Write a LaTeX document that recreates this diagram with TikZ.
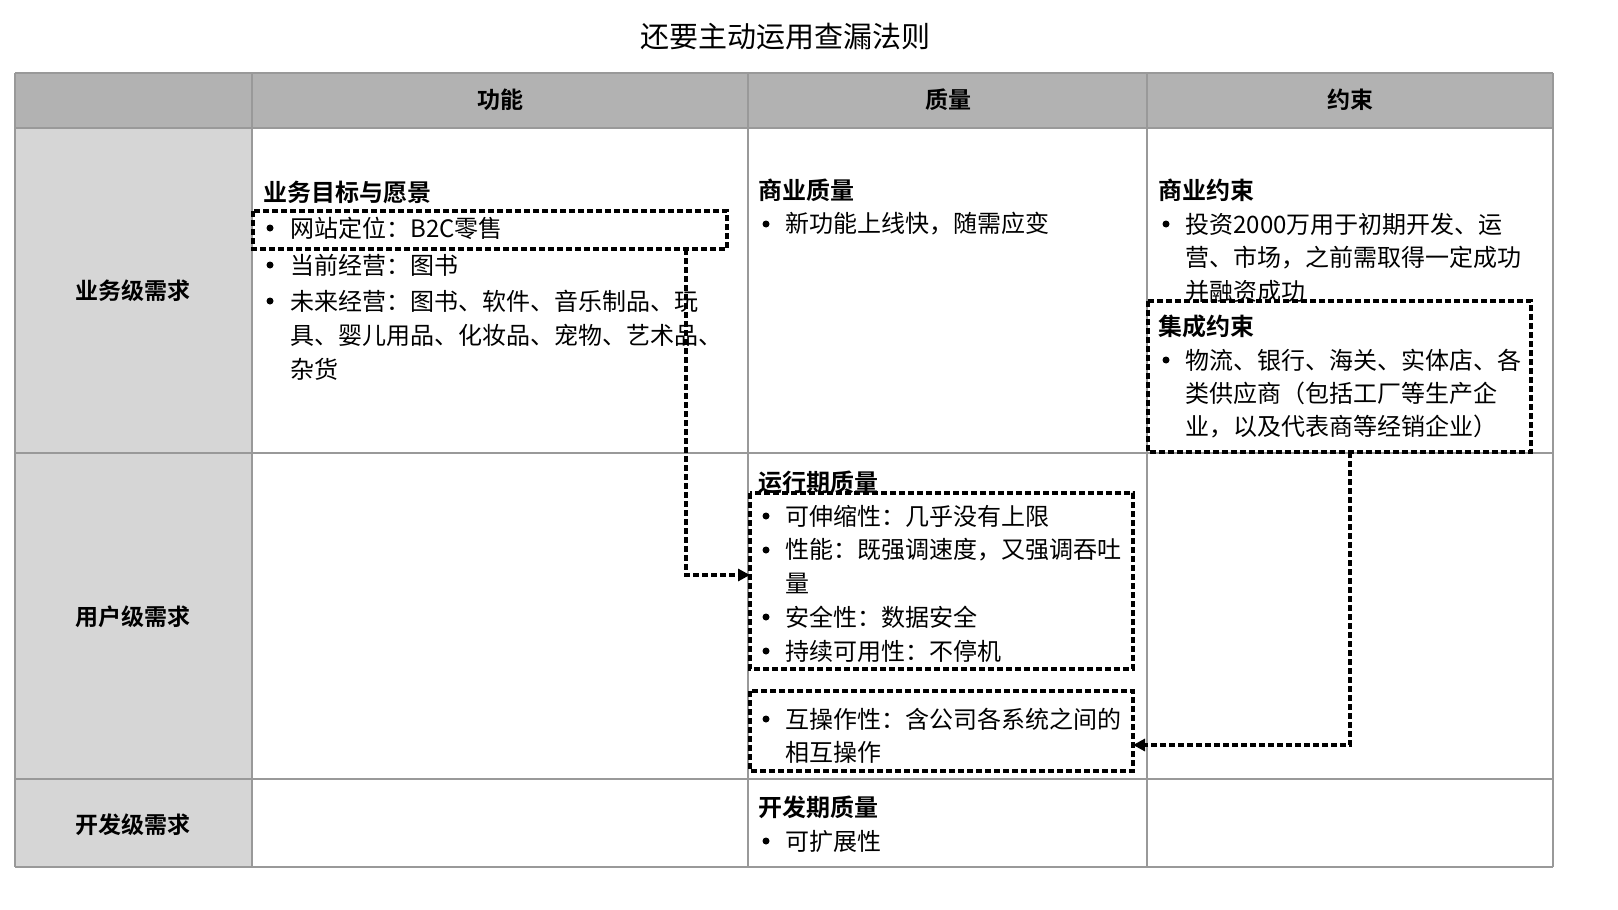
\documentclass[tikz,border=0pt]{standalone}
\usepackage{fontspec}
\setmainfont{Noto Sans CJK SC}[BoldFont={Noto Sans CJK SC Bold}]
\usetikzlibrary{arrows.meta}
\begin{document}
\begin{tikzpicture}[x=0.5pt,y=-0.5pt,
  txt/.style={anchor=west,inner sep=0,font=\fontsize{12}{14}\selectfont},
  head/.style={anchor=west,inner sep=0,font=\fontsize{12}{14}\selectfont\bfseries},
  rowlab/.style={inner sep=0,font=\fontsize{11.5}{14}\selectfont\bfseries},
  bul/.style={circle,fill=black,inner sep=0,minimum size=3.5pt},
  dbox/.style={draw,line width=1.6pt,dash pattern=on 3pt off 1.5pt},
  darr/.style={line width=1.6pt,dash pattern=on 3pt off 1.5pt,-{Triangle[length=6pt,width=6pt]}},
  grid/.style={draw=black!40,line width=0.6pt}]
\useasboundingbox (0,0) rectangle (1618,910);
\fill[white] (0,0) rectangle (1618,910);
\node[inner sep=0,font=\fontsize{14.5}{16}\selectfont] (title) at (785,37) {还要主动运用查漏法则};
\fill[black!30] (15,73) rectangle (1553,128);
\fill[black!16] (15,128) rectangle (252,867);
\foreach \y in {73,128,453,779,867} \draw[grid] (15,\y) -- (1553,\y);
\foreach \x in {15,252,748,1147,1553} \draw[grid] (\x,73) -- (\x,867);
\node[rowlab] (h1) at (500,100) {功能};
\node[rowlab] (h2) at (948,100) {质量};
\node[rowlab] (h3) at (1350,100) {约束};
\node[rowlab] (r1) at (133,291) {业务级需求};
\node[rowlab] (r2) at (133,617) {用户级需求};
\node[rowlab] (r3) at (133,825) {开发级需求};
% cell functions
\node[head] (f0) at (263,192) {业务目标与愿景};
\foreach \y/\t [count=\i] in {228/网站定位：B2C零售,265/当前经营：图书,301/未来经营：图书、软件、音乐制品、玩} {
  \node[bul] (fb\i) at (270,\y) {}; \node[txt] (ft\i) at (290,\y) {\t};}
\node[txt] (ft4) at (290,335) {具、婴儿用品、化妆品、宠物、艺术品、};
\node[txt] (ft5) at (290,369) {杂货};
\draw[dbox] (253,211) rectangle (727,249);
\coordinate (a1) at (686,249);
% quality business
\node[head] (q0) at (758,190) {商业质量};
\node[bul] (qb1) at (766,224) {}; \node[txt] (qt1) at (785,224) {新功能上线快，随需应变};
% constraint
\node[head] (c0) at (1158,190) {商业约束};
\node[bul] (cb1) at (1166,224) {}; \node[txt] (ct1) at (1185,224) {投资2000万用于初期开发、运};
\node[txt] (ct2) at (1185,258) {营、市场，之前需取得一定成功};
\node[txt] (ct3) at (1185,291) {并融资成功};
\node[head] (c1) at (1158,326) {集成约束};
\node[bul] (cb2) at (1166,360) {}; \node[txt] (ct4) at (1185,360) {物流、银行、海关、实体店、各};
\node[txt] (ct5) at (1185,393) {类供应商（包括工厂等生产企};
\node[txt] (ct6) at (1185,427) {业，以及代表商等经销企业）};
\draw[dbox] (1148,301) rectangle (1531,452);
\coordinate (a2) at (1350,452);
% run-time quality
\node[head] (q1) at (758,482) {运行期质量};
\foreach \y/\t [count=\i] in {516/可伸缩性：几乎没有上限,550/性能：既强调速度，又强调吞吐,617/安全性：数据安全,651/持续可用性：不停机} {
  \node[bul] (rb\i) at (766,\y) {}; \node[txt] (rt\i) at (785,\y) {\t};}
\node[txt] (rt5) at (785,583) {量};
\draw[dbox] (750,493) rectangle (1133,669);
\coordinate (t1) at (750,575);
\node[bul] (ib) at (766,719) {}; \node[txt] (it1) at (785,719) {互操作性：含公司各系统之间的};
\node[txt] (it2) at (785,752) {相互操作};
\draw[dbox] (750,691) rectangle (1133,771);
\coordinate (t2) at (1133,745);
% dev quality
\node[head] (q2) at (758,807) {开发期质量};
\node[bul] (db) at (766,841) {}; \node[txt] (dt) at (785,841) {可扩展性};
\draw[darr] (a1) |- (t1);
\draw[darr] (a2) |- (t2);
\end{tikzpicture}
\end{document}
